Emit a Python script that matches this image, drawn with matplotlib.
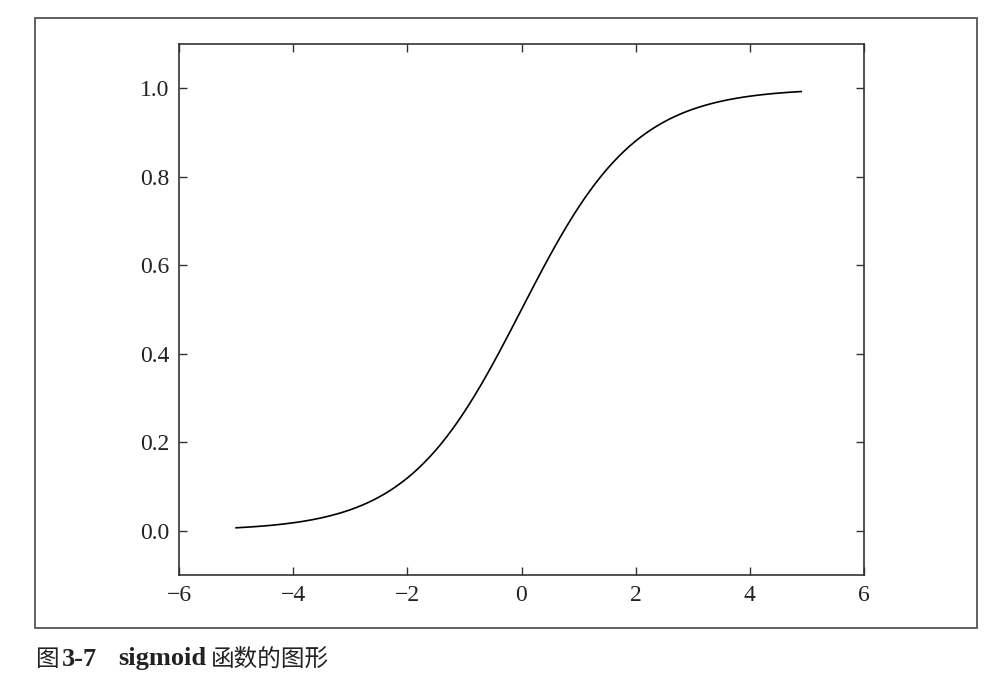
import matplotlib
matplotlib.use("Agg")
import matplotlib.pyplot as plt
from matplotlib.patches import Rectangle

x_vals = [-5.0, -4.9, -4.8, -4.7, -4.6, -4.5, -4.4, -4.3, -4.2, -4.1,
          -4.0, -3.9, -3.8, -3.7, -3.6, -3.5, -3.4, -3.3, -3.2, -3.1,
          -3.0, -2.9, -2.8, -2.7, -2.6, -2.5, -2.4, -2.3, -2.2, -2.1,
          -2.0, -1.9, -1.8, -1.7, -1.6, -1.5, -1.4, -1.3, -1.2, -1.1,
          -1.0, -0.9, -0.8, -0.7, -0.6, -0.5, -0.4, -0.3, -0.2, -0.1,
          0.0, 0.1, 0.2, 0.3, 0.4, 0.5, 0.6, 0.7, 0.8, 0.9,
          1.0, 1.1, 1.2, 1.3, 1.4, 1.5, 1.6, 1.7, 1.8, 1.9,
          2.0, 2.1, 2.2, 2.3, 2.4, 2.5, 2.6, 2.7, 2.8, 2.9,
          3.0, 3.1, 3.2, 3.3, 3.4, 3.5, 3.6, 3.7, 3.8, 3.9,
          4.0, 4.1, 4.2, 4.3, 4.4, 4.5, 4.6, 4.7, 4.8, 4.9]
y_vals = [0.0067, 0.0074, 0.0082, 0.0090, 0.0100, 0.0110, 0.0121, 0.0134, 0.0148, 0.0163,
          0.0180, 0.0198, 0.0219, 0.0241, 0.0266, 0.0293, 0.0323, 0.0356, 0.0392, 0.0431,
          0.0474, 0.0522, 0.0573, 0.0630, 0.0691, 0.0759, 0.0832, 0.0911, 0.0998, 0.1091,
          0.1192, 0.1301, 0.1419, 0.1545, 0.1680, 0.1824, 0.1978, 0.2142, 0.2315, 0.2497,
          0.2689, 0.2891, 0.3100, 0.3318, 0.3543, 0.3775, 0.4013, 0.4256, 0.4502, 0.4750,
          0.5000, 0.5250, 0.5498, 0.5744, 0.5987, 0.6225, 0.6457, 0.6682, 0.6900, 0.7109,
          0.7311, 0.7503, 0.7685, 0.7858, 0.8022, 0.8176, 0.8320, 0.8455, 0.8581, 0.8699,
          0.8808, 0.8909, 0.9002, 0.9089, 0.9168, 0.9241, 0.9309, 0.9370, 0.9427, 0.9478,
          0.9526, 0.9569, 0.9608, 0.9644, 0.9677, 0.9707, 0.9734, 0.9759, 0.9781, 0.9802,
          0.9820, 0.9837, 0.9852, 0.9866, 0.9879, 0.9890, 0.9900, 0.9910, 0.9918, 0.9926]
x_ticks = [-6, -4, -2, 0, 2, 4, 6]
y_ticks = [0.0, 0.2, 0.4, 0.6, 0.8, 1.0]

W, H = 1002, 683
fig = plt.figure(figsize=(W / 100, H / 100), dpi=100)

# outer frame of the book figure
fig.patches.append(Rectangle((35 / W, (H - 628) / H), (977 - 35) / W, (628 - 18) / H,
                             transform=fig.transFigure, fill=False,
                             edgecolor="#555555", linewidth=1.3))

ax = fig.add_axes([179 / W, (H - 575) / H, 685 / W, 531 / H])
ax.plot(x_vals, y_vals, color="black", linewidth=1.2)
ax.set_xlim(-6, 6)
ax.set_ylim(-0.1, 1.1)
ax.set_xticks(x_ticks)
ax.set_yticks(y_ticks)
ax.set_yticklabels(["%.1f" % v for v in y_ticks])
ax.tick_params(direction="in", length=6, width=1, top=True, right=True,
               labelsize=17, pad=7, color="#333333", labelcolor="#222222")
for lab in ax.get_xticklabels() + ax.get_yticklabels():
    lab.set_fontfamily("Liberation Serif")
for s in ax.spines.values():
    s.set_color("#333333")
    s.set_linewidth(1.2)

# caption
cy = 1 - 659 / H
fig.text(36 / W, cy, "图", fontsize=17, family="Noto Sans CJK SC", weight="medium",
         va="center", color="#222222")
fig.text(62 / W, cy, "3-7", fontsize=19, family="Liberation Serif", weight="bold",
         va="center", color="#222222")
fig.text(118 / W, cy, "sigmoid", fontsize=19, family="Liberation Serif", weight="bold",
         va="center", color="#222222")
fig.text(211 / W, cy, "函数的图形", fontsize=17, family="Noto Sans CJK SC", weight="medium",
         va="center", color="#222222")

fig.savefig("out.png", dpi=100)
